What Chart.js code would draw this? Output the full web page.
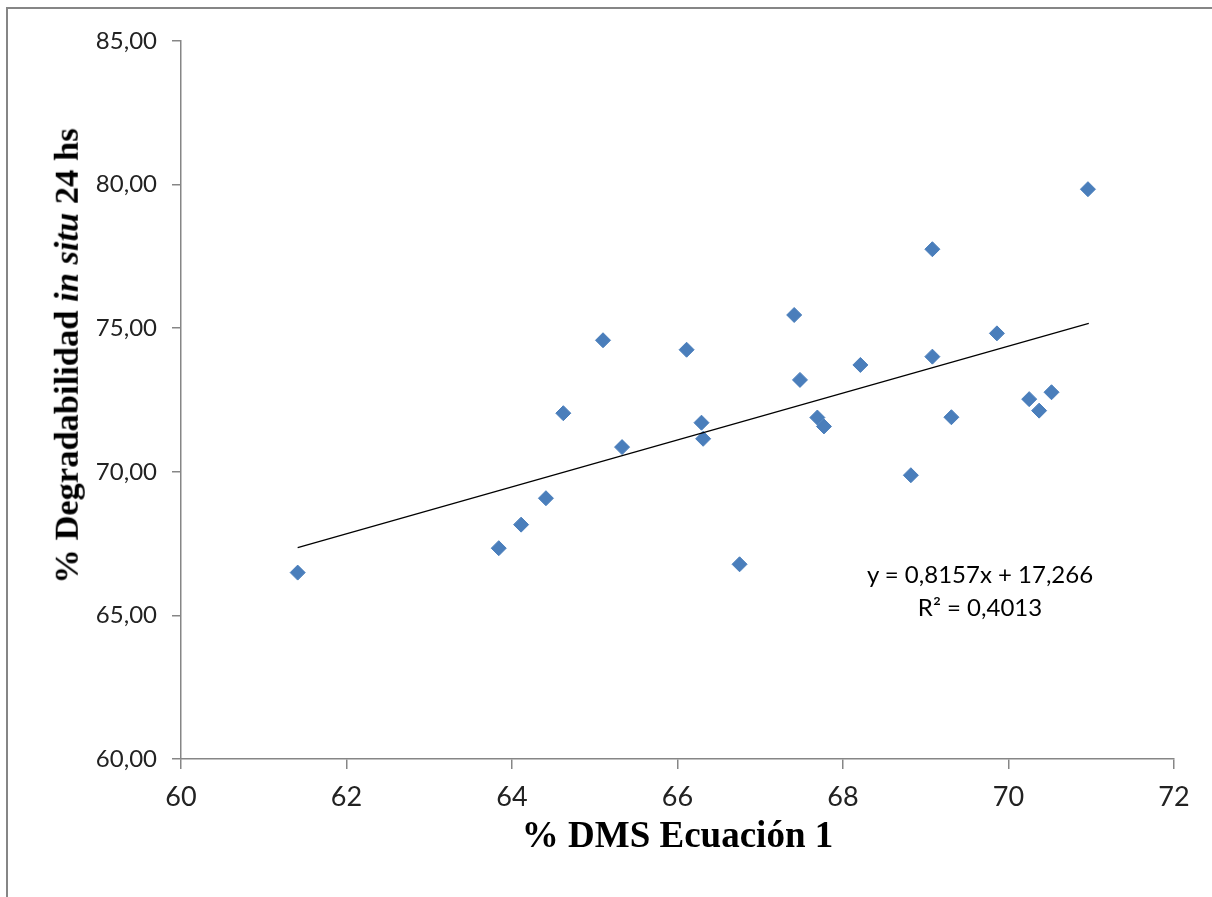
<!DOCTYPE html>
<html>
<head>
<meta charset="utf-8">
<script src="https://cdn.jsdelivr.net/npm/chart.js@4"></script>
<style>
  html, body { margin: 0; padding: 0; background: #fff; overflow: hidden; }
  #wrap { position: relative; width: 1212px; height: 897px; }
  #frame { position: absolute; left: 6px; top: 7px; width: 1300px; height: 1000px; border: 2px solid #868686; }
  #chart { position: absolute; left: 0; top: 0; }
  #ytitle {
    position: absolute; left: 66px; top: 356px;
    transform: translate(-50%, -50%) rotate(-90deg);
    font: bold 34.5px "Liberation Serif", "Times New Roman", serif;
    line-height: 1; white-space: nowrap; color: #000;
  }
  #eq {
    position: absolute; left: 980px; top: 557px; transform: translateX(-50%);
    font: 24px Lato, sans-serif; line-height: 33px; text-align: center; color: #000; white-space: nowrap;
  }
</style>
</head>
<body>
<div id="wrap">
  <div id="frame"></div>
  <canvas id="chart" width="1212" height="897"></canvas>
  <div id="ytitle">% Degradabilidad <i>in situ</i> 24 hs</div>
  <div id="eq">y = 0,8157x + 17,266<br>R² = 0,4013</div>
</div>
<script>
// % DMS Ecuación 1 (x) vs % Degradabilidad in situ 24 hs (y)
const DMS = [
  61.41, 63.84, 64.11, 64.41, 64.62, 65.10, 65.33, 66.11, 66.29, 66.31,
  66.75, 67.41, 67.48, 67.69, 67.77, 68.21, 68.82, 69.08, 69.08, 69.31,
  69.86, 70.25, 70.37, 70.52, 70.96,
];
const DEGRAD = [
  66.49, 67.34, 68.16, 69.08, 72.04, 74.58, 70.86, 74.25, 71.71, 71.15,
  66.78, 75.46, 73.20, 71.89, 71.58, 73.72, 69.88, 77.75, 74.01, 71.90,
  74.82, 72.53, 72.13, 72.77, 79.84,
];
// linear trend line, end points
const TREND_X = [61.41, 70.97];
const TREND_Y = [67.36, 75.17];

const X_TICKS = [60, 62, 64, 66, 68, 70, 72];
const Y_TICKS = [60, 65, 70, 75, 80, 85];

const AXIS_GREY = "#868686";
const fmtY = (v) => v.toFixed(2).replace(".", ",");

new Chart(document.getElementById("chart"), {
  type: "scatter",
  data: {
    datasets: [
      {
        label: "Tendencia",
        type: "line",
        data: TREND_X.map((x, i) => ({ x, y: TREND_Y[i] })),
        borderColor: "#000",
        borderWidth: 1.2,
        pointRadius: 0,
        fill: false,
        order: 0,
      },
      {
        label: "Datos",
        data: DMS.map((x, i) => ({ x, y: DEGRAD[i] })),
        pointStyle: "rectRot",
        pointRadius: 7.5,
        pointBorderWidth: 1,
        backgroundColor: "#4a7ebb",
        borderColor: "#4a7ebb",
        order: 1,
      },
    ],
  },
  options: {
    responsive: false,
    animation: false,
    events: [],
    layout: { padding: { left: 0, top: 41, right: 38, bottom: 0 } },
    plugins: { legend: { display: false }, tooltip: { enabled: false } },
    scales: {
      x: {
        type: "linear",
        min: X_TICKS[0],
        max: X_TICKS[X_TICKS.length - 1],
        afterBuildTicks: (s) => { s.ticks = X_TICKS.map((v) => ({ value: v })); },
        afterFit: (s) => { s.height = 138; },
        border: { color: AXIS_GREY, width: 1.5 },
        grid: { drawOnChartArea: false, drawTicks: true, tickLength: 10, color: AXIS_GREY, lineWidth: 1.5 },
        ticks: { color: "#222", font: { family: "Lato", size: 27 }, padding: 12 },
        title: {
          display: true,
          text: "% DMS Ecuación 1",
          color: "#000",
          font: { family: "Liberation Serif", size: 37, weight: "bold" },
          padding: { top: 0, bottom: 37 },
        },
      },
      y: {
        type: "linear",
        min: Y_TICKS[0],
        max: Y_TICKS[Y_TICKS.length - 1],
        afterBuildTicks: (s) => { s.ticks = Y_TICKS.map((v) => ({ value: v })); },
        afterFit: (s) => { s.width = 181; },
        border: { color: AXIS_GREY, width: 1.5 },
        grid: { drawOnChartArea: false, drawTicks: true, tickLength: 9, color: AXIS_GREY, lineWidth: 1.5 },
        ticks: { color: "#222", font: { family: "Lato", size: 24 }, padding: 15, callback: (v) => fmtY(v) },
      },
    },
  },
});
</script>
</body>
</html>
